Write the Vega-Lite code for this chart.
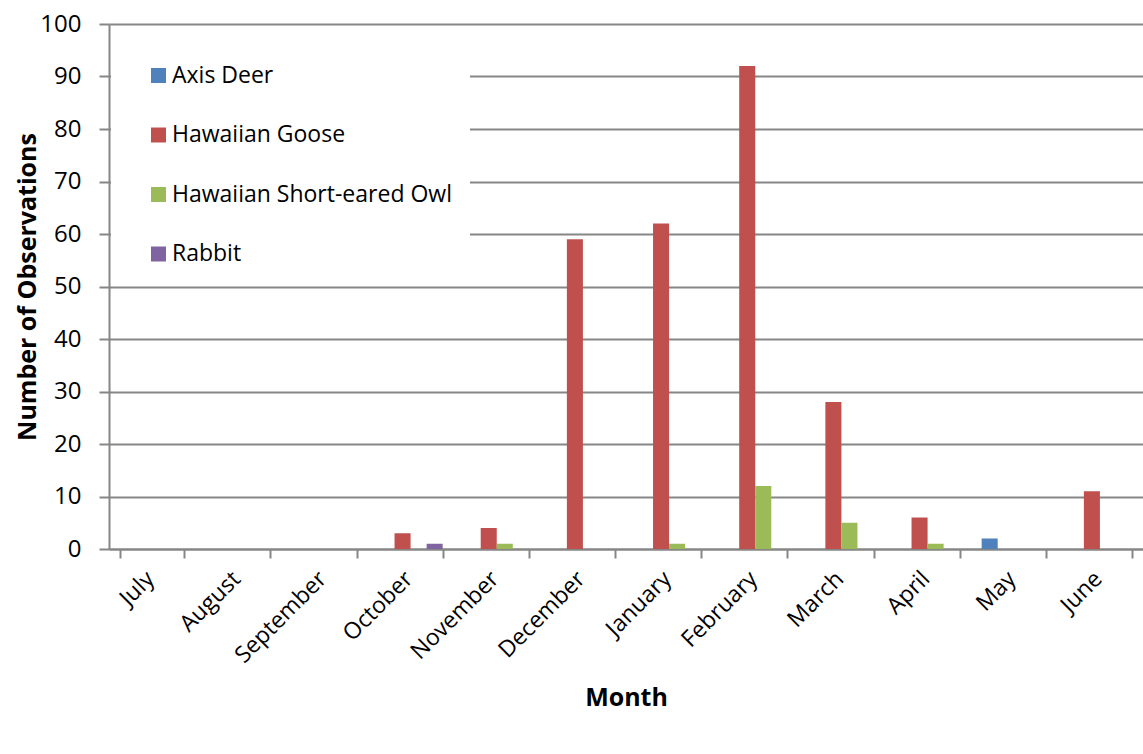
{
  "$schema": "https://vega.github.io/schema/vega-lite/v6.json",
  "autosize": "none",
  "width": 1034,
  "height": 525,
  "padding": {"left": 109, "top": 24, "right": 0, "bottom": 205},
  "background": "white",
  "config": {
    "font": "Open Sans",
    "view": {"stroke": null},
    "axis": {"labelFont": "Open Sans", "titleFont": "Open Sans", "labelColor": "black", "titleColor": "black"}
  },
  "data": {
    "values": [
      {"month": "July", "species": "Axis Deer", "count": 0},
      {"month": "July", "species": "Hawaiian Goose", "count": 0},
      {"month": "July", "species": "Hawaiian Short-eared Owl", "count": 0},
      {"month": "July", "species": "Rabbit", "count": 0},
      {"month": "August", "species": "Axis Deer", "count": 0},
      {"month": "August", "species": "Hawaiian Goose", "count": 0},
      {"month": "August", "species": "Hawaiian Short-eared Owl", "count": 0},
      {"month": "August", "species": "Rabbit", "count": 0},
      {"month": "September", "species": "Axis Deer", "count": 0},
      {"month": "September", "species": "Hawaiian Goose", "count": 0},
      {"month": "September", "species": "Hawaiian Short-eared Owl", "count": 0},
      {"month": "September", "species": "Rabbit", "count": 0},
      {"month": "October", "species": "Axis Deer", "count": 0},
      {"month": "October", "species": "Hawaiian Goose", "count": 3},
      {"month": "October", "species": "Hawaiian Short-eared Owl", "count": 0},
      {"month": "October", "species": "Rabbit", "count": 1},
      {"month": "November", "species": "Axis Deer", "count": 0},
      {"month": "November", "species": "Hawaiian Goose", "count": 4},
      {"month": "November", "species": "Hawaiian Short-eared Owl", "count": 1},
      {"month": "November", "species": "Rabbit", "count": 0},
      {"month": "December", "species": "Axis Deer", "count": 0},
      {"month": "December", "species": "Hawaiian Goose", "count": 59},
      {"month": "December", "species": "Hawaiian Short-eared Owl", "count": 0},
      {"month": "December", "species": "Rabbit", "count": 0},
      {"month": "January", "species": "Axis Deer", "count": 0},
      {"month": "January", "species": "Hawaiian Goose", "count": 62},
      {"month": "January", "species": "Hawaiian Short-eared Owl", "count": 1},
      {"month": "January", "species": "Rabbit", "count": 0},
      {"month": "February", "species": "Axis Deer", "count": 0},
      {"month": "February", "species": "Hawaiian Goose", "count": 92},
      {"month": "February", "species": "Hawaiian Short-eared Owl", "count": 12},
      {"month": "February", "species": "Rabbit", "count": 0},
      {"month": "March", "species": "Axis Deer", "count": 0},
      {"month": "March", "species": "Hawaiian Goose", "count": 28},
      {"month": "March", "species": "Hawaiian Short-eared Owl", "count": 5},
      {"month": "March", "species": "Rabbit", "count": 0},
      {"month": "April", "species": "Axis Deer", "count": 0},
      {"month": "April", "species": "Hawaiian Goose", "count": 6},
      {"month": "April", "species": "Hawaiian Short-eared Owl", "count": 1},
      {"month": "April", "species": "Rabbit", "count": 0},
      {"month": "May", "species": "Axis Deer", "count": 2},
      {"month": "May", "species": "Hawaiian Goose", "count": 0},
      {"month": "May", "species": "Hawaiian Short-eared Owl", "count": 0},
      {"month": "May", "species": "Rabbit", "count": 0},
      {"month": "June", "species": "Axis Deer", "count": 0},
      {"month": "June", "species": "Hawaiian Goose", "count": 11},
      {"month": "June", "species": "Hawaiian Short-eared Owl", "count": 0},
      {"month": "June", "species": "Rabbit", "count": 0}
    ]
  },
  "mark": {"type": "bar"},
  "encoding": {
    "x": {
      "field": "month",
      "type": "nominal",
      "sort": null,
      "scale": {
        "domain": ["July", "August", "September", "October", "November", "December", "January", "February", "March", "April", "May", "June"],
        "paddingInner": 0.255,
        "paddingOuter": 0.1275
      },
      "axis": {
        "title": "Month",
        "titleFontSize": 25,
        "titleFontWeight": "bold",
        "titlePadding": 18,
        "labelAngle": -45,
        "labelAlign": "right",
        "labelBaseline": "middle",
        "labelFontSize": 23,
        "labelPadding": 17,
        "labelOffset": -2,
        "tickBand": "extent",
        "tickSize": 9,
        "tickColor": "#868686",
        "tickWidth": 2,
        "domainColor": "#868686",
        "domainWidth": 2,
        "grid": false
      }
    },
    "xOffset": {
      "field": "species",
      "type": "nominal",
      "scale": {"domain": ["Axis Deer", "Hawaiian Goose", "Hawaiian Short-eared Owl", "Rabbit"], "padding": 0}
    },
    "y": {
      "field": "count",
      "type": "quantitative",
      "scale": {"domain": [0, 100], "nice": false},
      "axis": {
        "title": "Number of Observations",
        "titleFontSize": 25,
        "titleFontWeight": "bold",
        "titlePadding": -1,
        "values": [0, 10, 20, 30, 40, 50, 60, 70, 80, 90, 100],
        "labelFontSize": 24,
        "labelPadding": 18,
        "tickSize": 10,
        "tickColor": "#868686",
        "tickWidth": 2,
        "domainColor": "#868686",
        "domainWidth": 2,
        "grid": true,
        "gridColor": "#868686",
        "gridWidth": 2
      }
    },
    "color": {
      "field": "species",
      "type": "nominal",
      "scale": {
        "domain": ["Axis Deer", "Hawaiian Goose", "Hawaiian Short-eared Owl", "Rabbit"],
        "range": ["#4F81BD", "#C0504D", "#9BBB59", "#8064A2"]
      },
      "legend": {
        "title": null,
        "orient": "none",
        "legendX": 2,
        "legendY": 22,
        "fillColor": "white",
        "padding": 18,
        "symbolOffset": 18,
        "symbolType": "square",
        "symbolSize": 225,
        "symbolStrokeWidth": 0,
        "labelFontSize": 23,
        "labelFont": "Open Sans",
        "labelColor": "black",
        "labelOffset": 2,
        "rowPadding": 35.5,
        "labelLimit": 400
      }
    }
  }
}
